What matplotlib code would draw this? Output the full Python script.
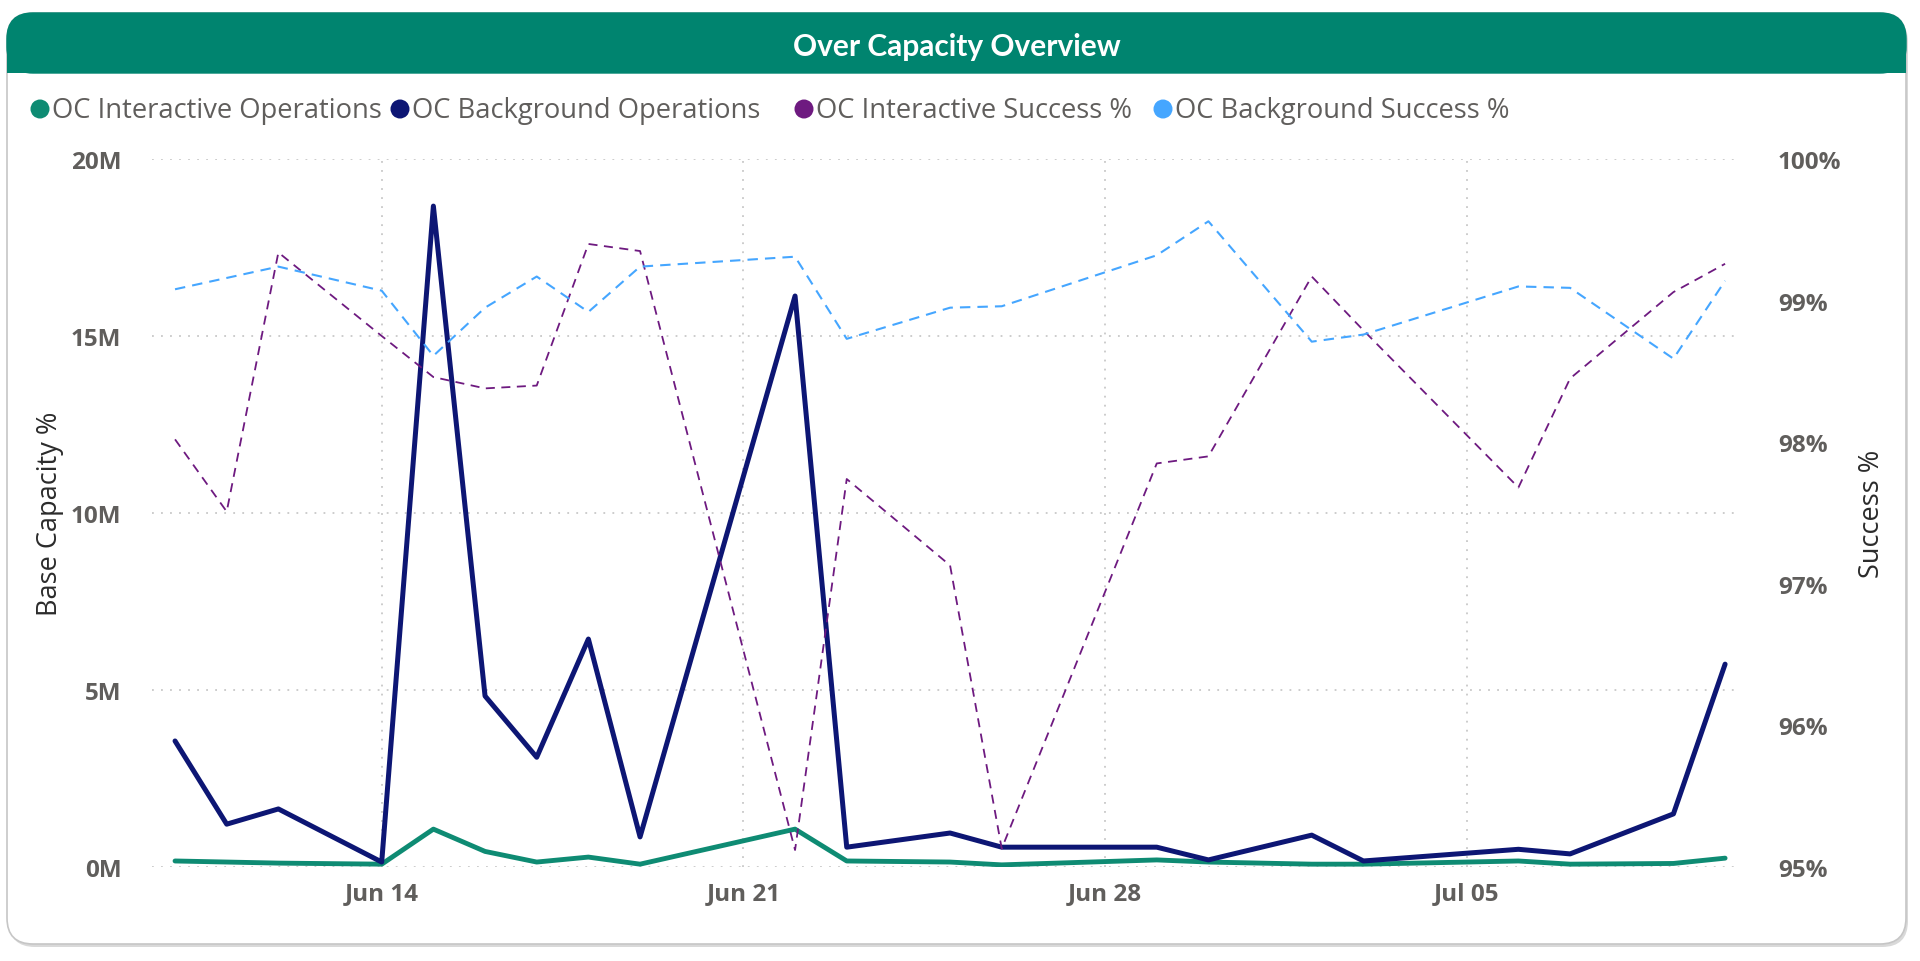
import matplotlib
matplotlib.use('Agg')
import matplotlib.pyplot as plt
import matplotlib.dates as mdates
from matplotlib.patches import FancyBboxPatch, Rectangle, Circle
from matplotlib.transforms import IdentityTransform
from matplotlib.ticker import FixedLocator, FuncFormatter
import pandas as pd

# ---------------- data ----------------
dates = ['2024-06-10', '2024-06-11', '2024-06-12', '2024-06-14', '2024-06-15',
         '2024-06-16', '2024-06-17', '2024-06-18', '2024-06-19', '2024-06-22',
         '2024-06-23', '2024-06-25', '2024-06-26', '2024-06-29', '2024-06-30',
         '2024-07-02', '2024-07-03', '2024-07-06', '2024-07-07', '2024-07-09',
         '2024-07-10']
# operations in millions
oc_interactive_ops = [0.17, 0.14, 0.11, 0.08, 1.07, 0.44, 0.14, 0.28, 0.08, 1.07,
                      0.17, 0.14, 0.06, 0.20, 0.14, 0.08, 0.08, 0.17, 0.08, 0.10,
                      0.25]
oc_background_ops = [3.56, 1.21, 1.64, 0.14, 18.67, 4.83, 3.10, 6.44, 0.85, 16.13,
                     0.56, 0.96, 0.56, 0.56, 0.20, 0.90, 0.17, 0.50, 0.37, 1.50,
                     5.73]
# success in percent
oc_interactive_success = [98.02, 97.51, 99.34, 98.75, 98.46, 98.38, 98.40, 99.40,
                          99.35, 95.12, 97.74, 97.13, 95.13, 97.85, 97.90, 99.17,
                          98.79, 97.68, 98.45, 99.06, 99.26]
oc_background_success = [99.08, 99.16, 99.24, 99.07, 98.61, 98.95, 99.17, 98.92,
                         99.24, 99.31, 98.73, 98.95, 98.96, 99.32, 99.56, 98.71,
                         98.76, 99.10, 99.09, 98.59, 99.14]

series_names = ['OC Interactive Operations', 'OC Background Operations',
                'OC Interactive Success %', 'OC Background Success %']
x_tick_dates = ['2024-06-14', '2024-06-21', '2024-06-28', '2024-07-05']
left_ticks_m = [0, 5, 10, 15, 20]
right_ticks = [95, 96, 97, 98, 99, 100]
title = 'Over Capacity Overview'
left_label = 'Base Capacity %'
right_label = 'Success %'

# ---------------- style ----------------
C_GREEN = '#0E8B73'
C_NAVY = '#0D1674'
C_PURPLE = '#6E1A80'
C_LBLUE = '#45A6FF'
C_TEAL = '#00846F'
C_TICK = '#605E5C'
C_GRID = '#C8C8C8'
FONT = 'Open Sans'

W, H = 1920, 962
fig = plt.figure(figsize=(W / 100, H / 100), dpi=100)
fig.patch.set_facecolor('white')
idt = IdentityTransform()

def dy(y_img):
    return H - y_img

# card shadow + card
card_x0, card_x1, card_y0, card_y1 = 7, 1906, 14, 945
R = 26
fig.add_artist(FancyBboxPatch((card_x0 + 2, dy(card_y1) - 3), card_x1 - card_x0,
                              card_y1 - card_y0,
                              boxstyle=f'round,pad=0,rounding_size={R}',
                              transform=idt, facecolor='#D9D9D9', edgecolor='none',
                              zorder=-3))
fig.add_artist(FancyBboxPatch((card_x0, dy(card_y1)), card_x1 - card_x0,
                              card_y1 - card_y0,
                              boxstyle=f'round,pad=0,rounding_size={R}',
                              transform=idt, facecolor='white', edgecolor='#C6C6C6',
                              linewidth=1.2, zorder=-2))
# title bar
tb_bottom = 74
fig.add_artist(FancyBboxPatch((card_x0, dy(tb_bottom)), card_x1 - card_x0,
                              tb_bottom - card_y0,
                              boxstyle=f'round,pad=0,rounding_size={R}',
                              transform=idt, facecolor=C_TEAL, edgecolor=C_TEAL,
                              linewidth=1.0, zorder=-1))
fig.add_artist(Rectangle((card_x0, dy(tb_bottom)), card_x1 - card_x0, 30,
                         transform=idt, facecolor=C_TEAL, edgecolor='none', zorder=-0.9))
fig.text(957 / W, 1 - 47 / H, title, ha='center', va='center', color='white',
         fontsize=21.5, fontweight='bold', family='Lato', zorder=2)

# legend
leg_colors = [C_GREEN, C_NAVY, C_PURPLE, C_LBLUE]
leg_marker_x = [40, 400, 804, 1163]
leg_y = 110
for name, col, mx in zip(series_names, leg_colors, leg_marker_x):
    fig.add_artist(Circle((mx, dy(leg_y)), 9.5, transform=idt, facecolor=col,
                          edgecolor='none', zorder=2))
    fig.text((mx + 12) / W, 1 - (leg_y + 1) / H, name, ha='left', va='center',
             color=C_TICK, fontsize=19.7, family=FONT)

# axes
ax_l, ax_r, ax_t, ax_b = 152, 1735, 160, 868
ax = fig.add_axes([ax_l / W, 1 - ax_b / H, (ax_r - ax_l) / W, (ax_b - ax_t) / H])
ax.set_facecolor('none')
ax2 = ax.twinx()
ax.set_zorder(5)
ax2.set_zorder(6)
ax2.patch.set_visible(False)

x = pd.to_datetime(dates)
ax.plot(x, [v * 1e6 for v in oc_interactive_ops], color=C_GREEN, lw=3.5,
        solid_joinstyle='round', solid_capstyle='round', zorder=3)
ax.plot(x, [v * 1e6 for v in oc_background_ops], color=C_NAVY, lw=3.6,
        solid_joinstyle='round', solid_capstyle='round', zorder=3)
ax2.plot(x, oc_interactive_success, color=C_PURPLE, lw=1.3, dashes=(5, 3.6), zorder=3)
ax2.plot(x, oc_background_success, color=C_LBLUE, lw=1.5, dashes=(5, 3.4), zorder=3)

x0 = pd.Timestamp(dates[0]) - pd.Timedelta(hours=10.7)
x1 = pd.Timestamp(dates[-1]) + pd.Timedelta(hours=4.6)
ax.set_xlim(x0, x1)
ax.set_ylim(0, 20e6)
ax2.set_ylim(95, 100)

ax.xaxis.set_major_locator(FixedLocator(mdates.date2num(pd.to_datetime(x_tick_dates))))
ax.xaxis.set_major_formatter(mdates.DateFormatter('%b %d'))
ax.yaxis.set_major_locator(FixedLocator([v * 1e6 for v in left_ticks_m]))
ax.yaxis.set_major_formatter(FuncFormatter(lambda v, p: f'{v / 1e6:.0f}M'))
ax2.yaxis.set_major_locator(FixedLocator(right_ticks))
ax2.yaxis.set_major_formatter(FuncFormatter(lambda v, p: f'{v:.0f}%'))

for a in (ax, ax2):
    for s in a.spines.values():
        s.set_visible(False)
ax.tick_params(axis='both', length=0, colors=C_TICK, labelsize=17.5)
ax2.tick_params(axis='y', length=0, colors=C_TICK, labelsize=17.5, pad=31)
ax.tick_params(axis='y', pad=22)
ax.tick_params(axis='x', pad=10)
for lab in ax.get_xticklabels() + ax.get_yticklabels() + ax2.get_yticklabels():
    lab.set_fontweight('bold')
    lab.set_family(FONT)

ax.grid(True, axis='both', color=C_GRID, linestyle=(0, (1, 4)), linewidth=1.3)
ax.set_axisbelow(True)

ax.set_ylabel(left_label, fontsize=19.5, color='#2B2B2B', family=FONT, labelpad=5)
ax2.set_ylabel(right_label, fontsize=19.5, color='#2B2B2B', family=FONT, labelpad=12)

fig.savefig('out.png', dpi=100, facecolor='white')
